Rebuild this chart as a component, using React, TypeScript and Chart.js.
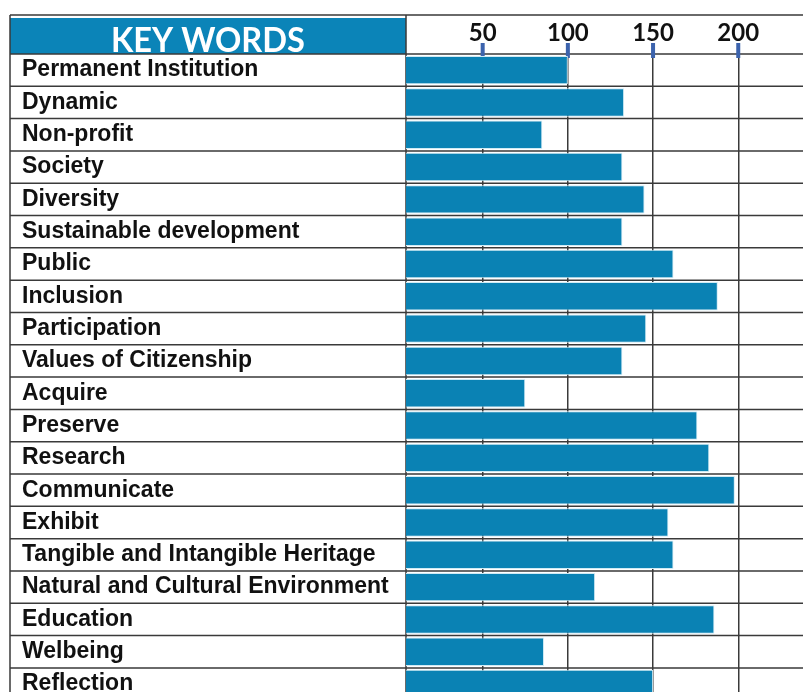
import React, { useEffect, useRef } from "react";
import { Chart, registerables } from "chart.js";

Chart.register(...registerables);

const keywords = [
  "Permanent Institution",
  "Dynamic",
  "Non-profit",
  "Society",
  "Diversity",
  "Sustainable development",
  "Public",
  "Inclusion",
  "Participation",
  "Values of Citizenship",
  "Acquire",
  "Preserve",
  "Research",
  "Communicate",
  "Exhibit",
  "Tangible and Intangible Heritage",
  "Natural and Cultural Environment",
  "Education",
  "Welbeing",
  "Reflection",
];

const counts = [100, 133, 85, 132, 145, 132, 162, 188, 146, 132, 75, 176, 183, 198, 159, 162, 116, 186, 86, 150];

const tickValues = [50, 100, 150, 200];
const headerTitle = "KEY WORDS";

const LINE = "#3a3a3a";
const BLUE = "#0a82b4";

const tablePlugin = {
  id: "tableFrame",
  beforeDatasetsDraw(chart: any) {
    const { ctx, chartArea, scales } = chart;
    const ys = scales.y;
    const xs = scales.x;
    const W = chart.width;
    const left = 10;
    const topY = 15;
    ctx.save();
    // header box
    ctx.fillStyle = "#0b84b8";
    ctx.fillRect(left, 18, chartArea.left - left, chartArea.top - 18);
    ctx.fillStyle = "#ffffff";
    ctx.font = "bold 35px Lato";
    ctx.textAlign = "center";
    ctx.textBaseline = "middle";
    ctx.fillText(headerTitle, (left + chartArea.left) / 2, 41, 194);
    // lines
    ctx.strokeStyle = LINE;
    ctx.lineWidth = 1.5;
    ctx.beginPath();
    ctx.moveTo(left, topY);
    ctx.lineTo(W, topY);
    const n = keywords.length;
    for (let i = 0; i <= n; i++) {
      let yy: number;
      if (i === 0) yy = chartArea.top;
      else if (i === n) yy = chartArea.bottom;
      else yy = (ys.getPixelForValue(i - 1) + ys.getPixelForValue(i)) / 2;
      ctx.moveTo(left, yy);
      ctx.lineTo(W, yy);
    }
    ctx.moveTo(left, topY);
    ctx.lineTo(left, chartArea.bottom);
    ctx.moveTo(chartArea.left, topY);
    ctx.lineTo(chartArea.left, chartArea.bottom);
    ctx.stroke();
    // tick markers
    ctx.strokeStyle = "#3c63ad";
    ctx.lineWidth = 4;
    ctx.beginPath();
    for (const v of tickValues) {
      const px = xs.getPixelForValue(v);
      ctx.moveTo(px, chartArea.top - 11);
      ctx.lineTo(px, chartArea.top + 4);
    }
    ctx.stroke();
    ctx.restore();
  },
};

export default function App() {
  const ref = useRef<HTMLCanvasElement | null>(null);
  useEffect(() => {
    if (!ref.current) return;
    const chart = new Chart(ref.current, {
      type: "bar",
      data: {
        labels: keywords,
        datasets: [
          {
            data: counts,
            backgroundColor: BLUE,
            borderColor: "#cfeaf4",
            borderWidth: 1,
            barPercentage: 0.88,
            categoryPercentage: 1,
          },
        ],
      },
      options: {
        indexAxis: "y",
        animation: false,
        responsive: false,
        devicePixelRatio: 1,
        layout: { padding: { left: 22, right: 0, top: 0, bottom: 0 } },
        plugins: { legend: { display: false }, tooltip: { enabled: false } },
        scales: {
          x: {
            type: "linear",
            position: "top",
            min: 5,
            max: 238,
            afterBuildTicks: (axis: any) => {
              axis.ticks = tickValues.map((v) => ({ value: v }));
            },
            afterFit: (axis: any) => {
              axis.height = 54;
            },
            grid: { color: LINE, lineWidth: 1.5, drawTicks: false },
            border: { display: false },
            ticks: {
              padding: 6,
              color: "#111",
              font: { family: "Lato", weight: "bold", size: 24 },
              callback: (v: any) => String(v),
            },
          },
          y: {
            type: "category",
            afterFit: (axis: any) => {
              axis.width = 384;
            },
            grid: { display: false },
            border: { display: false },
            ticks: {
              crossAlign: "far",
              padding: 0,
              autoSkip: false,
              color: "#111",
              font: { family: "Liberation Sans", weight: "bold", size: 23 },
            },
          },
        },
      },
      plugins: [tablePlugin],
    } as any);
    return () => chart.destroy();
  }, []);
  return (
    <div
      style={{
        position: "fixed",
        left: 0,
        top: 0,
        width: 803,
        height: 692,
        overflow: "hidden",
        background: "#fff",
      }}
    >
      <canvas ref={ref} width={803} height={714} style={{ display: "block" }} />
    </div>
  );
}
